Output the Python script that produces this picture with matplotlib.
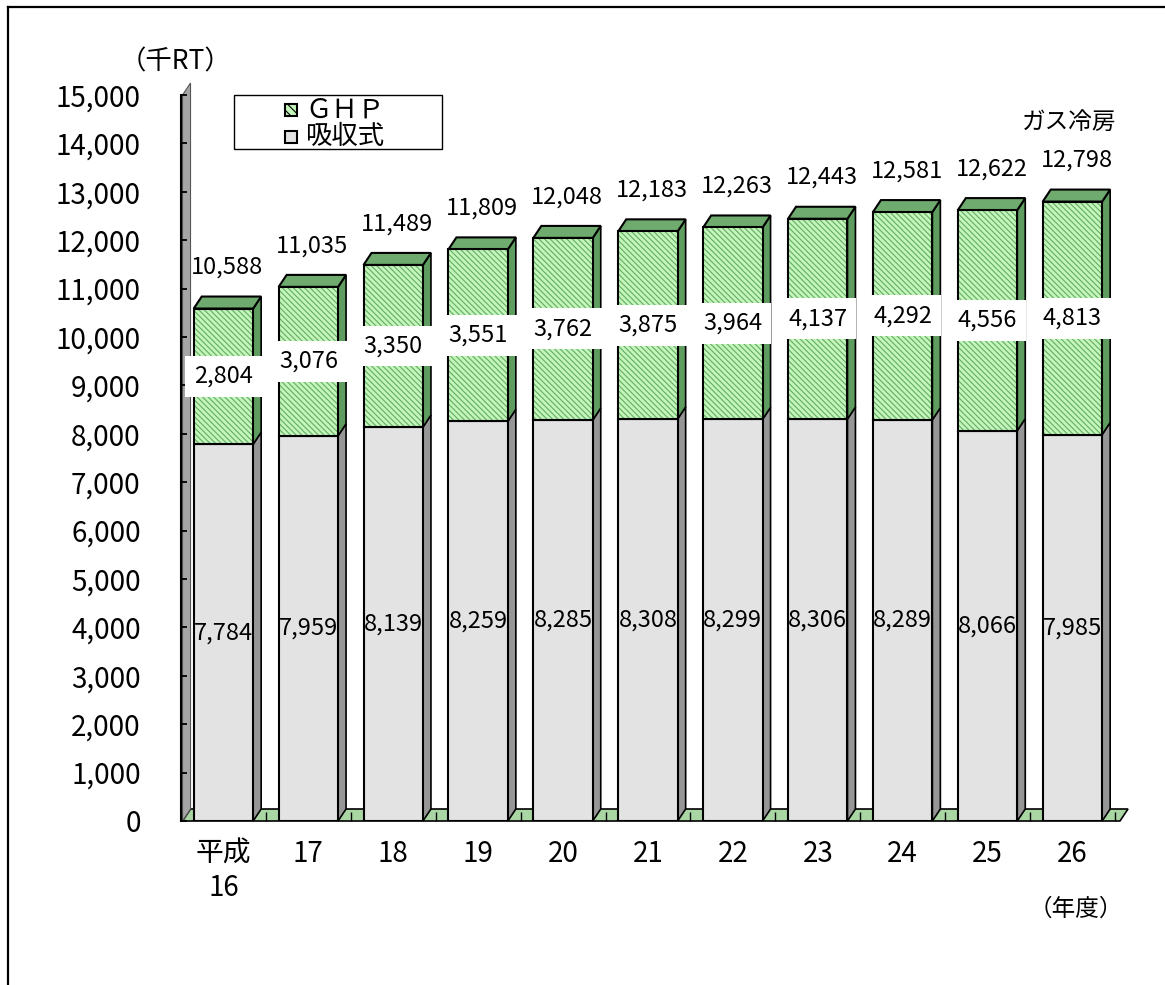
import matplotlib
matplotlib.use('Agg')
import matplotlib.pyplot as plt
from matplotlib.patches import Polygon, Rectangle
import numpy as np

plt.rcParams['font.family'] = ['Noto Sans CJK JP', 'DejaVu Sans']
plt.rcParams['hatch.linewidth'] = 0.8

# data (千RT)
years = ['平成\n16', '17', '18', '19', '20', '21', '22', '23', '24', '25', '26']
absorption = [7784, 7959, 8139, 8259, 8285, 8308, 8299, 8306, 8289, 8066, 7985]
ghp = [2804, 3076, 3350, 3551, 3762, 3875, 3964, 4137, 4292, 4556, 4813]
totals = [10588, 11035, 11489, 11809, 12048, 12183, 12263, 12443, 12581, 12622, 12798]

W, H = 1165, 985
fig = plt.figure(figsize=(W / 100, H / 100), dpi=100)
ax = fig.add_axes([181 / W, 1 - 821 / H, (1120 - 181) / W, (821 - 95) / H])

x = np.arange(len(years))
bw = 0.7
x0, x1 = -0.482, 10.56
dx = 8 / 85.0            # depth offset in x units
dy = 12 * 15000 / 726.0  # depth offset in y units

grey_front = '#e3e3e3'
grey_side = '#969696'
green_front = '#c4f5bb'
green_hatch = '#62ad62'
green_side = '#5f9c5f'
green_top = '#6fab6f'
floor_col = '#a9d6a3'

# floor and left wall
ax.add_patch(Polygon([(x0, 0), (x0 + dx, dy), (x1 + dx, dy), (x1, 0)],
                     closed=True, fc=floor_col, ec='black', lw=1.2, zorder=1, clip_on=False))
ax.add_patch(Polygon([(x0, 0), (x0 + dx, dy), (x0 + dx, 15000 + dy), (x0, 15000)],
                     closed=True, fc='#a6a6a6', ec='#555555', lw=0.8, zorder=1, clip_on=False))

# front faces
ax.bar(x, absorption, bw, color=grey_front, edgecolor='black', linewidth=1.5, zorder=3)
ax.bar(x, ghp, bw, bottom=absorption, color=green_front, edgecolor=green_hatch,
       linewidth=0, hatch='\\\\\\\\\\\\', zorder=3)
ax.bar(x, ghp, bw, bottom=absorption, fill=False, edgecolor='black', linewidth=1.5, zorder=3.1)

# side and top faces
for i in range(len(x)):
    r = x[i] + bw / 2
    l = x[i] - bw / 2
    a = absorption[i]
    t = a + ghp[i]
    ax.add_patch(Polygon([(r, 0), (r + dx, dy), (r + dx, a + dy), (r, a)], closed=True,
                         fc=grey_side, ec='black', lw=1.2, zorder=2.5, clip_on=False))
    ax.add_patch(Polygon([(r, a), (r + dx, a + dy), (r + dx, t + dy), (r, t)], closed=True,
                         fc=green_side, ec='black', lw=1.2, zorder=2.5, clip_on=False))
    ax.add_patch(Polygon([(l, t), (l + dx, t + dy), (r + dx, t + dy), (r, t)], closed=True,
                         fc=green_top, ec='black', lw=1.5, zorder=2.6, clip_on=False))

    # labels
    ax.text(x[i], a / 2, f'{a:,}', ha='center', va='center', fontsize=17, zorder=5)
    ax.text(x[i], a + ghp[i] / 2, f'{ghp[i]:,}', ha='center', va='center', fontsize=17,
            zorder=6, bbox=dict(facecolor='white', edgecolor='none', pad=6.5))
    ax.annotate(f'{totals[i]:,}', (x[i] + dx / 2, t + dy), xytext=(0, 21),
                textcoords='offset points', ha='center', va='center', fontsize=17, zorder=6)

ax.set_xlim(x0, x1)
ax.set_ylim(0, 15000)
ax.set_yticks(np.arange(0, 15001, 1000))
ax.set_yticklabels([f'{v:,}' for v in range(0, 15001, 1000)], fontsize=20)
ax.set_xticks(x)
ax.set_xticklabels(years, fontsize=20, linespacing=1.15)
ax.set_xticks(np.arange(-0.5, 11, 1), minor=True)
ax.tick_params(axis='y', direction='in', length=4.5, width=1.3, pad=29)
ax.tick_params(axis='x', which='major', length=0, pad=13)
ax.tick_params(axis='x', which='minor', direction='in', length=6.5, width=1)
for s in ['top', 'right', 'bottom']:
    ax.spines[s].set_visible(False)
ax.spines['left'].set_linewidth(1.5)
ax.set_facecolor('none')

# texts
fig.text(176 / W, 1 - 62 / H, '（千RT）', ha='center', va='center', fontsize=19)
fig.text(1116 / W, 1 - 122 / H, 'ガス冷房', ha='right', va='center', fontsize=17)
fig.text(1076 / W, 1 - 909 / H, '（年度）', ha='center', va='center', fontsize=17)

# legend
fig.patches.append(Rectangle((234 / W, 1 - 149 / H), 208 / W, 54 / H, transform=fig.transFigure,
                             fill=False, ec='black', lw=1))
fig.patches.append(Rectangle((285 / W, 1 - 116 / H), 12 / W, 12 / H, transform=fig.transFigure,
                             fc=green_front, ec='black', lw=1.5, hatch='\\\\\\\\'))
fig.patches.append(Rectangle((285 / W, 1 - 143 / H), 12 / W, 12 / H, transform=fig.transFigure,
                             fc=grey_front, ec='black', lw=1.5))
fig.text(305 / W, 1 - 110 / H, 'ＧＨＰ', ha='left', va='center', fontsize=19)
fig.text(305 / W, 1 - 137 / H, '吸収式', ha='left', va='center', fontsize=19)

# outer frame
fig.add_artist(plt.Line2D([8 / W, 1], [1 - 7 / H, 1 - 7 / H], color='black', lw=1.6,
                          transform=fig.transFigure))
fig.add_artist(plt.Line2D([8 / W, 8 / W], [0, 1 - 7 / H], color='black', lw=1.6,
                          transform=fig.transFigure))

fig.savefig('out.png', dpi=100)
